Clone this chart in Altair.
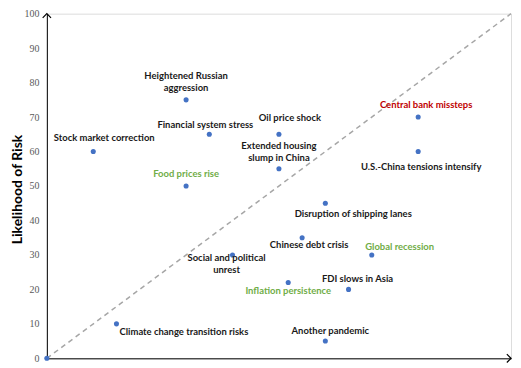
import altair as alt
import pandas as pd

# ---- data ----
risks = [
    "Stock market correction",
    "Heightened Russian\naggression",
    "Financial system stress",
    "Oil price shock",
    "Extended housing\nslump in China",
    "Food prices rise",
    "Central bank missteps",
    "U.S.-China tensions intensify",
    "Disruption of shipping lanes",
    "Chinese debt crisis",
    "Global recession",
    "Social and political\nunrest",
    "Inflation persistence",
    "FDI slows in Asia",
    "Another pandemic",
    "Climate change transition risks",
    "",
]
impact = [10, 30, 35, 50, 50, 30, 80, 80, 60, 55, 70, 40, 52, 65, 60, 15, 0]
likelihood = [60, 75, 65, 65, 55, 50, 70, 60, 45, 35, 30, 30, 22, 20, 5, 10, 0]
y_ticks = list(range(0, 101, 10))
y_title = "Likelihood of Risk"

# ---- styling / layout (kept apart from the data) ----
green = "#70AD47"
red = "#C00000"
label_color = {
    "Food prices rise": green,
    "Global recession": green,
    "Inflation persistence": green,
    "Central bank missteps": red,
}
# (dx, dy, align) for each label relative to its point, in pixels
# (for two-line labels dy places the first line)
label_offset = {
    "Stock market correction": (11, -14, "center"),
    "Heightened Russian\naggression": (0, -24, "center"),
    "Financial system stress": (-4, -9, "center"),
    "Oil price shock": (11, -16, "center"),
    "Extended housing\nslump in China": (0, -23, "center"),
    "Food prices rise": (0, -12, "center"),
    "Central bank missteps": (8, -12, "center"),
    "U.S.-China tensions intensify": (3, 16, "center"),
    "Disruption of shipping lanes": (28, 11, "center"),
    "Chinese debt crisis": (7, 7, "center"),
    "Global recession": (28, -8, "center"),
    "Social and political\nunrest": (-6, 3, "center"),
    "Inflation persistence": (0, 9, "center"),
    "FDI slows in Asia": (9, -10, "center"),
    "Another pandemic": (5, -10, "center"),
    "Climate change transition risks": (3, 8, "left"),
}

df = pd.DataFrame({"risk": risks, "impact": impact, "likelihood": likelihood})

x_scale = alt.Scale(domain=[0, 100], nice=False, zero=True)
y_scale = alt.Scale(domain=[0, 100], nice=False, zero=True)

x_enc = alt.X("impact:Q", scale=x_scale,
              axis=alt.Axis(labels=False, ticks=False, grid=False, title="",
                            domainColor="#000000", domainWidth=1))
y_enc = alt.Y("likelihood:Q", scale=y_scale,
              axis=alt.Axis(values=y_ticks, ticks=False, grid=False, labelPadding=8,
                            labelFont="Liberation Serif", labelFontSize=10,
                            labelColor="#595959",
                            domainColor="#000000", domainWidth=1,
                            title=y_title, titleFont="Lato", titleFontSize=14,
                            titleFontWeight="bold", titleColor="#000000",
                            titleAngle=-90, titleAlign="center",
                            titleBaseline="middle", titleX=-29, titleY=176))

base = alt.Chart(df)

diag_df = pd.DataFrame({"impact": x_scale.domain, "likelihood": y_scale.domain})
diagonal = alt.Chart(diag_df).mark_line(
    color="#A6A6A6", strokeDash=[5, 4], strokeWidth=1.5
).encode(x=x_enc, y=y_enc)

points = base.mark_circle(size=26, color="#4472C4", opacity=1).encode(x=x_enc, y=y_enc)

layers = [diagonal, points]
for name, (dx, dy, align) in label_offset.items():
    layers.append(
        base.transform_filter(alt.datum.risk == name)
        .mark_text(dx=dx, dy=dy, align=align, baseline="middle", lineBreak="\n",
                   font="Lato", fontSize=9.5, fontWeight="bold",
                   color=label_color.get(name, "#1a1a1a"), lineHeight=12)
        .encode(x=x_enc, y=y_enc, text="risk:N")
    )

# arrow heads at the ends of the two axes
arrow_path = "M-1,1L0,0L1,1"
arrow_df = pd.DataFrame({"impact": [0, 100], "likelihood": [100, 0], "rot": [0, 90]})
arrows = alt.Chart(arrow_df).mark_point(
    filled=False, strokeWidth=1.2, opacity=1, size=70
).encode(
    x=x_enc, y=y_enc,
    shape=alt.value(arrow_path),
    stroke=alt.value("#000000"),
    angle=alt.Angle("rot:Q", scale=None),
)
layers.append(arrows)

chart = alt.layer(*layers).properties(
    width=466, height=346,
    autosize=alt.AutoSizeParams(type="none"),
    padding={"left": 39, "top": 5, "right": 2, "bottom": 4},
).configure_view(stroke=None).configure(background="#ffffff")

chart.save("out.html", embed_options={"renderer": "svg", "actions": False})
